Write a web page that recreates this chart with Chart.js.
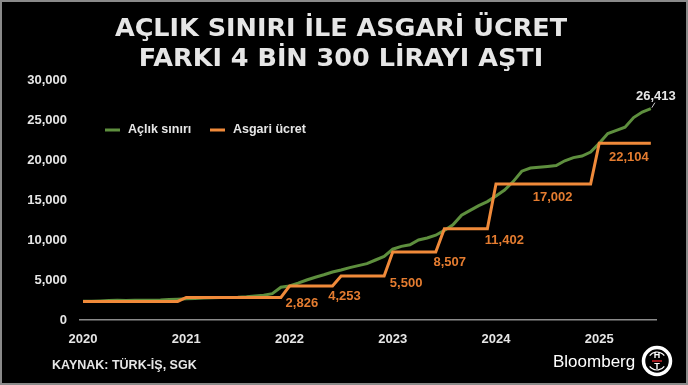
<!DOCTYPE html>
<html>
<head>
<meta charset="utf-8">
<script src="https://cdn.jsdelivr.net/npm/chart.js@4"></script>
<style>
  html, body { margin: 0; padding: 0; background: #000; }
  #frame { width: 688px; height: 385px; box-sizing: border-box; border: 2px solid #8a8a8a; background: #000; position: relative; }
  #wrap { width: 684px; height: 381px; }
</style>
</head>
<body>
<div id="frame"><div id="wrap"><canvas id="chart"></canvas></div></div>
<script>
// Monthly series, Jan 2020 - Jul 2025 (index 0 = Jan 2020)
const years = [2020, 2021, 2022, 2023, 2024, 2025];

const aclikSiniri = [
  2335, 2350, 2383, 2430, 2478, 2446, 2462, 2460, 2484, 2502, 2548, 2590,
  2650, 2700, 2740, 2780, 2800, 2800, 2830, 2900, 3000, 3100, 3300, 4100,
  4250, 4600, 5000, 5350, 5650, 6000, 6250, 6550, 6800, 7050, 7500, 7950,
  8850, 9200, 9400, 10000, 10250, 10600, 11200, 11900, 13100, 13700, 14300, 14800,
  15500, 16250, 17300, 18600, 19000, 19100, 19200, 19300, 19900, 20300, 20500, 21000,
  22100, 23300, 23700, 24100, 25300, 26000, 26413
];

const asgariUcret = [
  2324, 2324, 2324, 2324, 2324, 2324, 2324, 2324, 2324, 2324, 2324, 2324,
  2826, 2826, 2826, 2826, 2826, 2826, 2826, 2826, 2826, 2826, 2826, 2826,
  4253, 4253, 4253, 4253, 4253, 4253, 5500, 5500, 5500, 5500, 5500, 5500,
  8507, 8507, 8507, 8507, 8507, 8507, 11402, 11402, 11402, 11402, 11402, 11402,
  17002, 17002, 17002, 17002, 17002, 17002, 17002, 17002, 17002, 17002, 17002, 17002,
  22104, 22104, 22104, 22104, 22104, 22104, 22104
];

// months where each wage level ends (last index of the step) - labels sit near these
const stepEnds = [23, 29, 35, 41, 47, 59, 66];

const GREEN = '#5e8f3e';
const ORANGE = '#f08a3a';
const ORANGE_TXT = '#e47c30';
const TXT = '#e6e6e6';

// pixel offsets of each wage label from its step end
const labelOffsets = [[21, 6], [12, 10], [22, 7], [14, 10], [17, 12], [-38, 13], [-22, 14]];

const fmt = v => v.toLocaleString('en-US');

const decor = {
  id: 'decor',
  afterDraw(chart) {
    const ctx = chart.ctx;
    const x = chart.scales.x, y = chart.scales.y;
    ctx.save();

    // title
    ctx.fillStyle = TXT;
    ctx.textAlign = 'center';
    ctx.textBaseline = 'alphabetic';
    ctx.font = 'bold 25.5px "DejaVu Sans"';
    ctx.fillText('AÇLIK SINIRI İLE ASGARİ ÜCRET', 339, 34);
    ctx.fillText('FARKI 4 BİN 300 LİRAYI AŞTI', 339, 64);

    // legend
    ctx.font = 'bold 12.5px "Liberation Sans"';
    ctx.textAlign = 'left';
    ctx.textBaseline = 'middle';
    ctx.lineWidth = 3;
    ctx.strokeStyle = GREEN;
    ctx.beginPath(); ctx.moveTo(103, 128); ctx.lineTo(118, 128); ctx.stroke();
    ctx.fillStyle = TXT;
    ctx.fillText('Açlık sınırı', 126, 128);
    ctx.strokeStyle = ORANGE;
    ctx.beginPath(); ctx.moveTo(208, 128); ctx.lineTo(223, 128); ctx.stroke();
    ctx.fillText('Asgari ücret', 231, 128);

    // wage labels
    ctx.font = 'bold 13px "Liberation Sans"';
    ctx.textAlign = 'center';
    ctx.fillStyle = ORANGE_TXT;
    stepEnds.forEach((i, k) => {
      const px = x.getPixelForValue(i) + labelOffsets[k][0];
      const py = y.getPixelForValue(asgariUcret[i]) + labelOffsets[k][1];
      ctx.fillText(fmt(asgariUcret[i]), px, py);
    });

    // last hunger line value
    const li = aclikSiniri.length - 1;
    const ex = x.getPixelForValue(li), ey = y.getPixelForValue(aclikSiniri[li]);
    ctx.strokeStyle = '#cccccc';
    ctx.lineWidth = 1;
    ctx.beginPath(); ctx.moveTo(ex + 1, ey - 1); ctx.lineTo(ex + 4, ey - 6); ctx.stroke();
    ctx.fillStyle = TXT;
    ctx.fillText(fmt(aclikSiniri[li]), ex + 5, ey - 12);

    // source
    ctx.textAlign = 'left';
    ctx.font = 'bold 12.5px "Liberation Sans"';
    ctx.fillText('KAYNAK: TÜRK-İŞ, SGK', 50, 364);

    // Bloomberg HT logo
    ctx.font = '17px "Liberation Sans"';
    ctx.fillStyle = '#ffffff';
    ctx.textBaseline = 'alphabetic';
    ctx.fillText('Bloomberg', 551, 365);
    const cx = 655, cy = 359;
    ctx.lineWidth = 3.5;
    ctx.strokeStyle = '#ffffff';
    ctx.beginPath(); ctx.arc(cx, cy, 13.5, 0, Math.PI * 2); ctx.stroke();
    ctx.lineWidth = 1.2;
    ctx.beginPath(); ctx.arc(cx, cy, 9, -Math.PI * 0.8, -Math.PI * 0.2, false); ctx.stroke();
    ctx.beginPath(); ctx.arc(cx, cy, 9, Math.PI * 0.2, Math.PI * 0.8, false); ctx.stroke();
    ctx.font = 'bold 9px "Liberation Sans"';
    ctx.textAlign = 'center';
    ctx.textBaseline = 'middle';
    ctx.fillText('H', cx, cy - 5);
    ctx.fillText('T', cx, cy + 5.5);
    ctx.strokeStyle = '#d0202a';
    ctx.lineWidth = 1.5;
    ctx.beginPath(); ctx.moveTo(cx - 5, cy); ctx.lineTo(cx + 5, cy); ctx.stroke();

    ctx.restore();
  }
};

new Chart(document.getElementById('chart'), {
  type: 'line',
  data: {
    datasets: [
      {
        label: 'Asgari ücret',
        data: asgariUcret.map((v, i) => ({ x: i, y: v })),
        borderColor: ORANGE,
        borderWidth: 3,
        pointRadius: 0,
        tension: 0,
        order: 0
      },
      {
        label: 'Açlık sınırı',
        data: aclikSiniri.map((v, i) => ({ x: i, y: v })),
        borderColor: GREEN,
        borderWidth: 3,
        pointRadius: 0,
        tension: 0,
        order: 1
      }
    ]
  },
  options: {
    responsive: true,
    maintainAspectRatio: false,
    animation: false,
    layout: { padding: { top: 78, right: 30, left: 0, bottom: 0 } },
    plugins: { legend: { display: false }, tooltip: { enabled: false } },
    scales: {
      x: {
        type: 'linear',
        min: -0.35,
        max: 66.6,
        afterBuildTicks: s => { s.ticks = years.map((yr, k) => ({ value: k * 12 })); },
        afterFit: s => { s.height = 63; },
        grid: { display: false, drawTicks: false },
        border: { display: true, color: '#8a8a8a', width: 1.5 },
        ticks: {
          color: TXT,
          padding: 12,
          font: { family: 'Liberation Sans', size: 13, weight: 'bold' },
          callback: v => String(years[0] + v / 12)
        }
      },
      y: {
        min: 0,
        max: 30000,
        afterFit: s => { s.width = 78; },
        grid: { display: false, drawTicks: false },
        border: { display: false },
        ticks: {
          stepSize: 5000,
          color: TXT,
          padding: 13,
          font: { family: 'Liberation Sans', size: 13, weight: 'bold' },
          callback: v => fmt(v)
        }
      }
    }
  },
  plugins: [decor]
});
</script>
</body>
</html>
